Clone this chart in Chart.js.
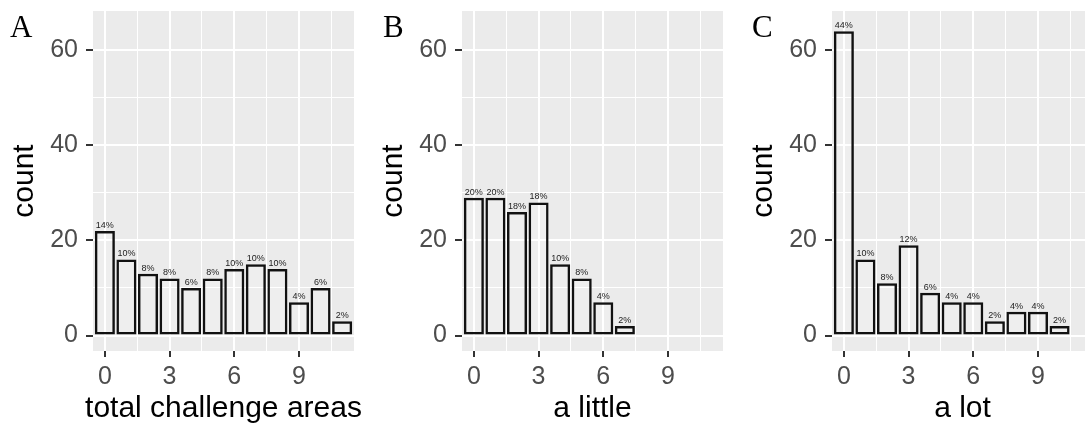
<!DOCTYPE html>
<html>
<head>
<meta charset="utf-8">
<script src="https://cdn.jsdelivr.net/npm/chart.js@4.4.0/dist/chart.umd.min.js"></script>
<style>
body { margin: 0; width: 1085px; height: 426px; overflow: hidden; background: #fff; position: relative; }
canvas { position: absolute; top: 0; }
</style>
</head>
<body>
<canvas id="panelA" width="369" height="426" style="left:0px"></canvas>
<canvas id="panelB" width="369" height="426" style="left:369px"></canvas>
<canvas id="panelC" width="369" height="426" style="left:739px"></canvas>
<script>
// number of areas (x values)
const areas = [0, 1, 2, 3, 4, 5, 6, 7, 8, 9, 10, 11]

const totalCounts = [22, 16, 13, 12, 10, 12, 14, 15, 14, 7, 10, 3]
const totalPct = ['14%', '10%', '8%', '8%', '6%', '8%', '10%', '10%', '10%', '4%', '6%', '2%']

const littleCounts = [29, 29, 26, 28, 15, 12, 7, 2]
const littlePct = ['20%', '20%', '18%', '18%', '10%', '8%', '4%', '2%']

const lotCounts = [64, 16, 11, 19, 9, 7, 7, 3, 5, 5, 2]
const lotPct = ['44%', '10%', '8%', '12%', '6%', '4%', '4%', '2%', '4%', '4%', '2%']

const xGrid = [0, 1.5, 3, 4.5, 6, 7.5, 9, 10.5]
const xMajor = [0, 3, 6, 9]
const yGrid = [0, 10, 20, 30, 40, 50, 60]
const yMajor = [0, 20, 40, 60]

const panelBits = {
    id: 'panelBits',
    beforeDraw(chart) {
        const {ctx, chartArea: a} = chart
        ctx.save()
        ctx.fillStyle = '#EBEBEB'
        ctx.fillRect(a.left, a.top, a.right - a.left, a.bottom - a.top)
        ctx.restore()
    },
    afterDatasetsDraw(chart, args, opts) {
        const ctx = chart.ctx
        const meta = chart.getDatasetMeta(0)
        const xs = chart.scales.x
        ctx.save()
        ctx.font = '9px "Liberation Sans"'
        ctx.fillStyle = '#222'
        ctx.textAlign = 'center'
        ctx.textBaseline = 'alphabetic'
        meta.data.forEach((bar, i) => ctx.fillText(opts.labels[i], bar.x, bar.y - 3))
        // x axis title (drawn here so it is not squeezed to the panel width)
        ctx.font = '30px "Liberation Sans"'
        ctx.fillStyle = '#000'
        ctx.fillText(opts.title, (xs.left + xs.right) / 2, 417)
        ctx.font = '31px "Liberation Serif", serif'
        ctx.textAlign = 'left'
        ctx.fillText(opts.tag, opts.tagX, 37)
        ctx.restore()
    }
}

function axisFont(size) {
    return {family: 'Liberation Sans', size: size}
}

function makePanel(id, counts, pct, title, tag, tagX) {
    return new Chart(document.getElementById(id), {
        type: 'bar',
        plugins: [panelBits],
        data: {
            datasets: [{
                data: counts.map((c, i) => ({x: areas[i], y: c})),
                backgroundColor: 'rgba(255,255,255,0.15)',
                borderColor: '#111',
                borderWidth: 2.5,
                borderSkipped: false,
                barPercentage: 0.93,
                categoryPercentage: 1
            }]
        },
        options: {
            responsive: false,
            animation: false,
            devicePixelRatio: 1,
            layout: {padding: {left: 0, right: 15, top: 11, bottom: 0}},
            plugins: {
                legend: {display: false},
                tooltip: {enabled: false},
                panelBits: {labels: pct, tag: tag, tagX: tagX, title: title}
            },
            scales: {
                x: {
                    type: 'linear',
                    min: -0.55,
                    max: 11.55,
                    offset: false,
                    afterBuildTicks: s => { s.ticks = xGrid.map(v => ({value: v})) },
                    afterFit: s => { s.height = 75; s.paddingLeft = 0; s.paddingRight = 0 },
                    border: {display: false},
                    grid: {
                        offset: false,
                        color: '#fff',
                        lineWidth: c => xMajor.includes(c.tick.value) ? 2 : 1,
                        tickLength: 6,
                        tickWidth: 2,
                        tickColor: c => xMajor.includes(c.tick.value) ? '#333' : 'rgba(0,0,0,0)'
                    },
                    ticks: {
                        autoSkip: false,
                        maxRotation: 0,
                        padding: 5,
                        color: '#4D4D4D',
                        font: axisFont(25),
                        callback: v => xMajor.includes(v) ? String(v) : ''
                    }
                },
                y: {
                    min: -3.25,
                    max: 68.25,
                    afterBuildTicks: s => { s.ticks = yGrid.map(v => ({value: v})) },
                    afterFit: s => { s.width = 93; s.paddingTop = 0; s.paddingBottom = 0 },
                    border: {display: false},
                    grid: {
                        color: '#fff',
                        lineWidth: c => yMajor.includes(c.tick.value) ? 2 : 1,
                        tickLength: 7,
                        tickWidth: 2,
                        tickColor: c => yMajor.includes(c.tick.value) ? '#333' : 'rgba(0,0,0,0)'
                    },
                    ticks: {
                        autoSkip: false,
                        padding: 8,
                        color: '#4D4D4D',
                        font: axisFont(25),
                        callback: v => yMajor.includes(v) ? String(v) : ''
                    },
                    title: {
                        display: true,
                        text: 'count',
                        color: '#000',
                        font: axisFont(30),
                        padding: {top: 7, bottom: 7}
                    }
                }
            }
        }
    })
}

makePanel('panelA', totalCounts, totalPct, 'total challenge areas', 'A', 10)
makePanel('panelB', littleCounts, littlePct, 'a little', 'B', 14)
makePanel('panelC', lotCounts, lotPct, 'a lot', 'C', 13)
</script>
</body>
</html>
